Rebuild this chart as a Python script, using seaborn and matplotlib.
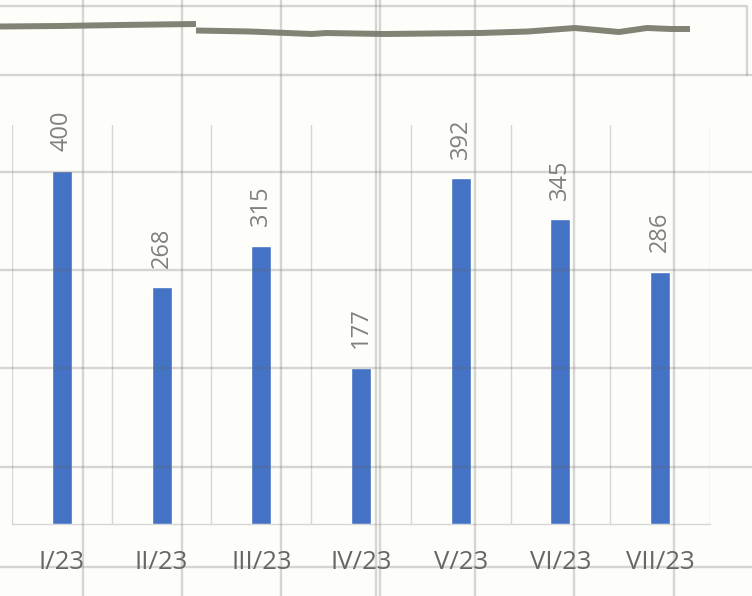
import matplotlib
matplotlib.use("Agg")
import matplotlib.pyplot as plt
import seaborn as sns
import pandas as pd
import numpy as np

# Monthly values
months = ["I/23", "II/23", "III/23", "IV/23", "V/23", "VI/23", "VII/23"]
values = [400, 268, 315, 177, 392, 345, 286]

# Pencil stroke across the top of the sheet (pixel coordinates), in two pieces
stroke_a_x = [0, 60, 120, 196]
stroke_a_y = [26.5, 26, 25, 24]
stroke_b_x = [196, 250, 312, 326, 384, 480, 528, 575, 619, 647, 671, 690]
stroke_b_y = [30.5, 31.5, 34, 33, 34, 33, 31.5, 28, 32, 28, 29, 29]

# Squared paper lines (pixel coordinates)
paper_vlines = [83, 182, 281, 376, 380, 475, 574, 674]
paper_hlines = [75, 172, 270, 368, 467, 567]

W, H = 752, 596
BG = "#fdfdf9"

sns.set_theme(style="white")
plt.rcParams["font.family"] = ["Open Sans", "DejaVu Sans"]

fig = plt.figure(figsize=(W / 100, H / 100), dpi=100, facecolor=BG)

# Chart area
ax = fig.add_axes([12 / W, (H - 524) / H, (710 - 12) / W, (524 - 125) / H])
ax.set_facecolor(BG)
df = pd.DataFrame({"month": months, "value": values})
sns.barplot(data=df, x="month", y="value", color="#4472C4", width=0.2,
            saturation=1, ax=ax, zorder=3)
ax.set_xlim(-0.5, len(months) - 0.5)
ax.set_ylim(0, 452)
ax.set_xlabel("")
ax.set_ylabel("")
ax.set_yticks([])

# Category separators
for xb in np.arange(-0.5, len(months), 1.0):
    ax.axvline(xb, color="#d6d6d6", lw=1.0, zorder=1)

for side in ["top", "left", "right"]:
    ax.spines[side].set_visible(False)
ax.spines["bottom"].set_color("#d6d6d6")
ax.spines["bottom"].set_linewidth(1.0)

ax.tick_params(axis="x", length=0, pad=18.5, labelsize=18.5, labelcolor="#666666")

ax.bar_label(ax.containers[0], labels=[str(v) for v in values], rotation=90,
             padding=14, fontsize=17, color="#808080")

# Overlay: squared paper and pencil stroke
ov = fig.add_axes([0, 0, 1, 1], zorder=10)
ov.set_xlim(0, W)
ov.set_ylim(H, 0)
ov.axis("off")
ov.patch.set_alpha(0)

line_col = (0.40, 0.40, 0.40, 0.26)
for xv in paper_vlines:
    ov.plot([xv, xv], [0, H], color=line_col, lw=1.7, solid_capstyle="butt")
for yv in paper_hlines:
    ov.plot([0, W], [yv, yv], color=line_col, lw=1.7, solid_capstyle="butt")
# Sheet edge at the top right
ov.plot([0, 747, 747], [6, 6, 75], color=line_col, lw=1.7)

ov.plot(stroke_a_x, stroke_a_y, color="#7b7b6e", lw=4.3, alpha=0.95,
        solid_capstyle="butt", solid_joinstyle="round")
ov.plot(stroke_b_x, stroke_b_y, color="#7b7b6e", lw=4.3, alpha=0.95,
        solid_capstyle="butt", solid_joinstyle="round")

fig.savefig("out.png", dpi=100, facecolor=BG)
